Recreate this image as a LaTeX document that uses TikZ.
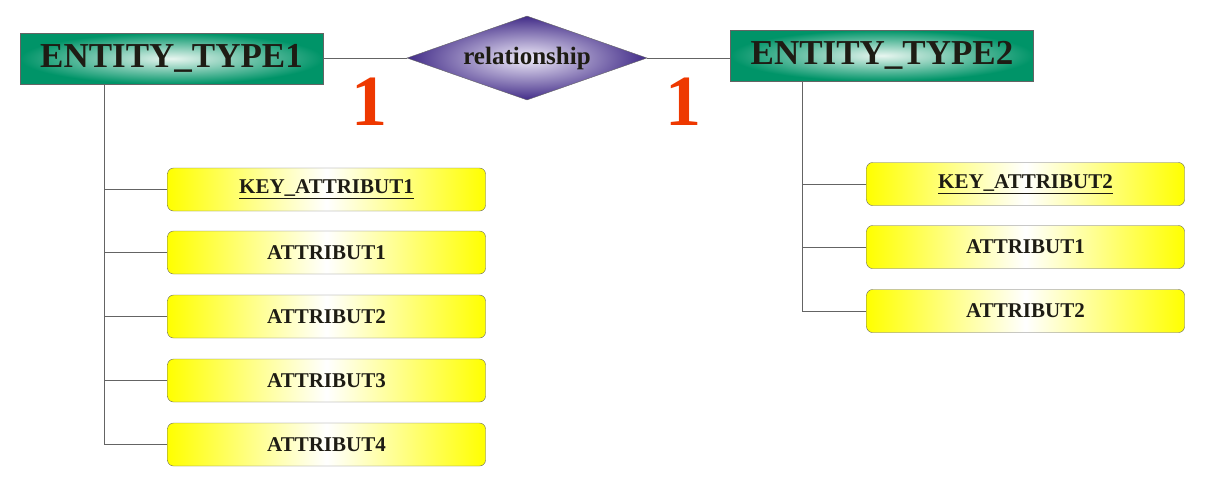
\documentclass[tikz,border=0pt]{standalone}
\usepackage{fontspec}
\setmainfont{Liberation Serif}
\usetikzlibrary{%
    positioning,
    shapes.geometric
}
\definecolor{entgreen}{RGB}{0,148,104}
\definecolor{entlight}{RGB}{232,246,240}
\definecolor{relpurple}{RGB}{66,44,136}
\definecolor{rellight}{RGB}{240,236,250}
\definecolor{attyellow}{RGB}{255,255,0}
\definecolor{linegrey}{RGB}{100,100,100}
\definecolor{cardred}{RGB}{238,56,0}
\definecolor{inkblack}{RGB}{30,28,20}

\begin{document}
\begin{tikzpicture}[x=1pt, y=-1pt,
    entity/.style={draw=linegrey, inner color=entlight, outer color=entgreen,
                   minimum width=303pt, minimum height=51pt, inner sep=0pt,
                   text=inkblack, font=\bfseries\fontsize{35}{40}\selectfont},
    relation/.style={diamond, aspect=2.86, draw=linegrey, inner sep=0pt,
                     inner color=rellight, outer color=relpurple,
                     minimum width=240pt, minimum height=84pt,
                     text=inkblack, font=\bfseries\fontsize{25}{30}\selectfont},
    attribute/.style={draw=linegrey, rounded corners=6pt,
                      left color=attyellow, right color=attyellow, middle color=white,
                      minimum width=318pt, minimum height=43pt, inner sep=0pt,
                      text=inkblack, font=\bfseries\fontsize{21}{25}\selectfont},
    card/.style={text=cardred, font=\bfseries\fontsize{72}{80}\selectfont},
    link/.style={draw=linegrey, line width=0.8pt}
    ]
    \useasboundingbox (0,0) rectangle (1214,496);

    \node[entity]   (entity1) at (171.5,58.5) {ENTITY\_TYPE1};
    \node[relation] (rel)     at (527,58)     {relationship};
    \node[entity]   (entity2) at (882,55.5)   {ENTITY\_TYPE2};

    \node[card] (card1) at (369,102) {1};
    \node[card] (card2) at (683,102) {1};

    \foreach \Name/\Y/\Label in {%
        a1-1/189.5/\underline{KEY\_ATTRIBUT1},
        a1-2/252.5/ATTRIBUT1,
        a1-3/316.5/ATTRIBUT2,
        a1-4/380.5/ATTRIBUT3,
        a1-5/444.5/ATTRIBUT4%
        }
        \node[attribute] (\Name) at (326.5,\Y) {\Label};

    \foreach \Name/\Y/\Label in {%
        a2-1/184/\underline{KEY\_ATTRIBUT2},
        a2-2/247/ATTRIBUT1,
        a2-3/311/ATTRIBUT2%
        }
        \node[attribute] (\Name) at (1025.5,\Y) {\Label};

    \draw[link] (entity1.east |- rel) -- (rel.west);
    \draw[link] (rel.east) -- (rel.east -| entity2.west);

    \coordinate (stem1) at ([xshift=85pt]entity1.south west);
    \coordinate (stem2) at ([xshift=72pt]entity2.south west);

    \draw[link] (stem1) |- (a1-5.west);
    \foreach \Target in {a1-1,a1-2,a1-3,a1-4}
        \draw[link] (stem1 |- \Target.west) -- (\Target.west);

    \draw[link] (stem2) |- (a2-3.west);
    \foreach \Target in {a2-1,a2-2}
        \draw[link] (stem2 |- \Target.west) -- (\Target.west);
\end{tikzpicture}
\end{document}
